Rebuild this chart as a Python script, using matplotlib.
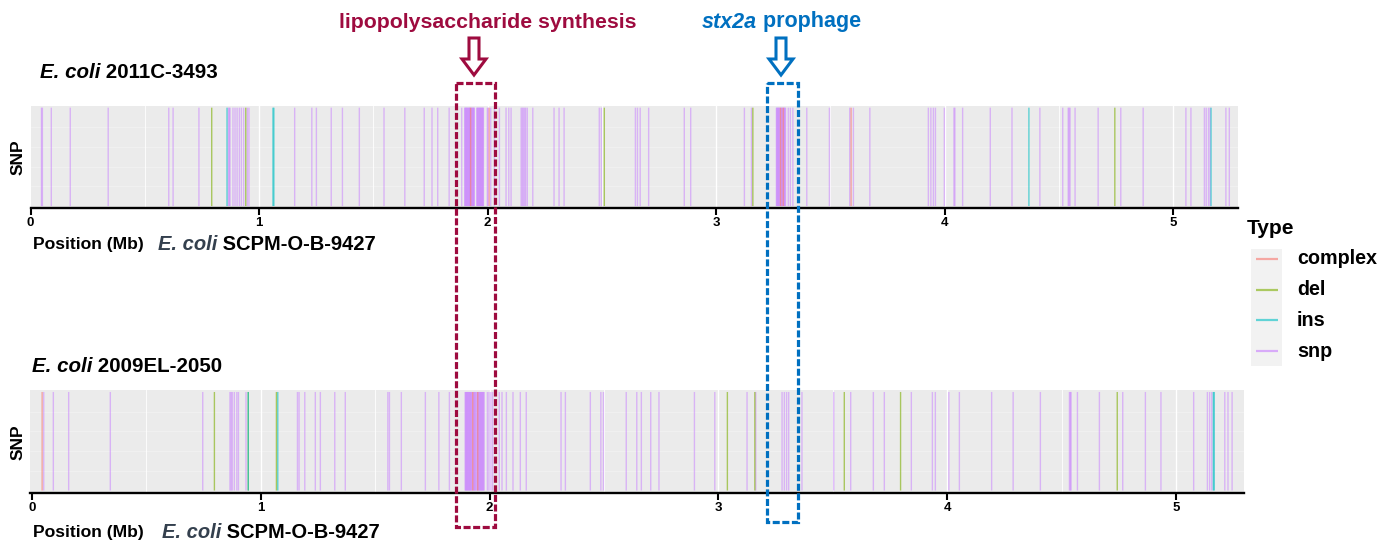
import matplotlib
matplotlib.use('Agg')
import matplotlib.pyplot as plt
from matplotlib.patches import Rectangle, Polygon

plt.rcParams['font.family'] = ['Liberation Sans', 'DejaVu Sans']

# ---------------- data (positions in Mb) ----------------
tick_values = [0, 1, 2, 3, 4, 5]
tick_labels = ['0', '1', '2', '3', '4', '5']
type_names = ['complex', 'del', 'ins', 'snp']

top_snp = [0.048, 0.052, 0.091, 0.174, 0.340, 0.605, 0.624, 0.737, 0.866, 0.870,
           0.873, 0.886, 0.895, 0.904, 0.914, 0.923, 0.933, 0.949, 0.956, 1.156,
           1.231, 1.251, 1.316, 1.365, 1.439, 1.547, 1.638, 1.723, 1.757, 1.782,
           1.832, 1.887,
           1.900, 1.902, 1.905, 1.907, 1.910, 1.912, 1.915, 1.917, 1.920, 1.922,
           1.924, 1.928, 1.930, 1.933, 1.935, 1.938, 1.940, 1.942,
           1.953, 1.955, 1.958, 1.960, 1.963, 1.965, 1.968, 1.970, 1.973, 1.975,
           1.978, 1.980, 1.982,
           1.999, 2.003, 2.014, 2.030, 2.052, 2.081, 2.093, 2.103, 2.147, 2.152,
           2.157, 2.162, 2.167, 2.174, 2.198, 2.291, 2.313, 2.335, 2.489, 2.498,
           2.647, 2.656, 2.668, 2.705, 2.861, 2.889, 3.124, 3.155,
           3.264, 3.266, 3.269, 3.271, 3.274, 3.276, 3.279, 3.284, 3.286, 3.289,
           3.291, 3.296, 3.299, 3.301, 3.304,
           3.316, 3.325, 3.336, 3.397, 3.496, 3.585, 3.601, 3.673,
           3.929, 3.940, 3.951, 3.960, 3.999, 4.041, 4.045, 4.079, 4.200, 4.295,
           4.417, 4.517, 4.541, 4.545, 4.549, 4.571, 4.672, 4.771, 4.869, 5.056,
           5.078, 5.137, 5.145, 5.155, 5.162, 5.231, 5.246]
top_del = [0.793, 0.942, 2.511, 3.161, 4.745]
top_ins = [0.860, 1.061, 1.065, 4.369, 5.166]
top_complex = [1.926, 2.007, 3.282, 3.294, 3.591]

bot_snp = [0.051, 0.093, 0.160, 0.342, 0.746, 0.865, 0.870, 0.875, 0.884, 0.895,
           0.902, 0.935, 1.160, 1.167, 1.192, 1.238, 1.260, 1.323, 1.369, 1.555,
           1.562, 1.614, 1.719, 1.778, 1.824,
           1.893, 1.895, 1.898, 1.900, 1.903, 1.905, 1.908, 1.910, 1.913, 1.915,
           1.918, 1.920, 1.923, 1.929, 1.931, 1.934, 1.936, 1.939,
           1.944, 1.946, 1.951, 1.953, 1.956, 1.958, 1.961, 1.963, 1.966, 1.968,
           1.971, 1.973, 1.976,
           1.990, 1.997, 2.005, 2.013, 2.042, 2.054, 2.073, 2.102, 2.134, 2.160,
           2.312, 2.331, 2.440, 2.486, 2.497, 2.597, 2.643, 2.663, 2.704, 2.740,
           2.895, 2.984, 3.125, 3.163, 3.278, 3.288, 3.298, 3.307, 3.365, 3.504,
           3.578, 3.677, 3.725, 3.843, 3.935, 3.948, 4.007, 4.053, 4.194, 4.288,
           4.407, 4.534, 4.538, 4.541, 4.569, 4.665, 4.767, 4.866, 4.934, 5.077,
           5.137, 5.147, 5.156, 5.213, 5.227, 5.245]
bot_del = [0.797, 0.945, 1.068, 3.039, 3.159, 3.550, 3.796, 4.743]
bot_ins = [0.945, 1.074, 5.163, 5.167]
bot_complex = [0.044, 1.926, 1.948]

top_title = ('E. coli', ' 2011C-3493')
bot_title = ('E. coli', ' 2009EL-2050')
ref_label = ('E. coli', ' SCPM-O-B-9427')

# ---------------- styling ----------------
W, H = 1390, 546
colors = {'complex': '#F8766D', 'del': '#7CAE00', 'ins': '#00BFC4', 'snp': '#C77CFF'}
red = '#9E0B3F'
blue = '#0070C0'

fig = plt.figure(figsize=(W / 100, H / 100), dpi=100)


def ax_px(left, top, right, bottom):
    return fig.add_axes([left / W, 1 - bottom / H, (right - left) / W, (bottom - top) / H])


def draw_panel(ax, snp, dele, ins, cpx, xlim):
    ax.set_facecolor('#EBEBEB')
    ax.set_xlim(*xlim)
    ax.set_ylim(-0.02, 1.02)
    for x in [0.5, 1.5, 2.5, 3.5, 4.5]:
        ax.axvline(x, color='white', lw=0.6, zorder=0)
    for x in tick_values[1:]:
        ax.axvline(x, color='white', lw=1.0, zorder=0)
    for y in [0.2, 0.4, 0.6, 0.8]:
        ax.axhline(y, color='white', lw=0.4, alpha=0.5, zorder=0)
    kw = dict(lw=1.0, snap=False)
    ax.vlines(snp, 0, 1, colors=colors['snp'], alpha=0.5, zorder=2, **kw)
    ax.vlines(dele, 0, 1, colors=colors['del'], alpha=0.6, zorder=2, **kw)
    ax.vlines(ins, 0, 1, colors=colors['ins'], alpha=0.6, zorder=2, **kw)
    ax.vlines(cpx, 0, 1, colors=colors['complex'], alpha=0.6, zorder=3, **kw)
    for s in ['top', 'right', 'left']:
        ax.spines[s].set_visible(False)
    ax.spines['bottom'].set_linewidth(1.7)
    ax.spines['bottom'].set_color('black')
    ax.set_yticks([])
    ax.set_xticks(tick_values)
    ax.set_xticklabels(tick_labels, fontweight='bold', fontsize=9.5)
    ax.tick_params(axis='x', length=5, width=1.5, pad=1.5, colors='black')


ax1 = ax_px(30.5, 105.7, 1238, 208)
draw_panel(ax1, top_snp, top_del, top_ins, top_complex, (0, 5.284))
ax2 = ax_px(30, 390, 1244, 492.5)
draw_panel(ax2, bot_snp, bot_del, bot_ins, bot_complex, (-0.009, 5.297))

# overlay in pixel coordinates
ov = fig.add_axes([0, 0, 1, 1], zorder=10)
ov.set_xlim(0, W)
ov.set_ylim(H, 0)
ov.axis('off')
ov.patch.set_alpha(0)


def mixed(x, y, parts, size, first_color='black', rest_color='black'):
    t1 = ov.text(x, y, parts[0], fontsize=size, fontweight='bold', style='italic',
                 color=first_color, va='center', ha='left')
    ov.annotate(parts[1], xy=(1, 0), xycoords=t1, fontsize=size, fontweight='bold',
                color=rest_color, va='bottom', ha='left')
    return t1


# SNP labels
for yc in [157, 442]:
    ov.text(18, yc, 'SNP', rotation=90, fontsize=12.5, fontweight='bold', va='center', ha='center')

# titles
mixed(40, 73, top_title, 14.8)
mixed(32, 367, bot_title, 14.8)

# position labels
for (xp, xr, yc) in [(33, 158, 245), (33, 162, 533)]:
    ov.text(xp, yc, 'Position (Mb)', fontsize=12.6, fontweight='bold', va='center', ha='left')
    mixed(xr, yc, ref_label, 14.5, first_color='#34404E')

# annotation boxes
ov.add_patch(Rectangle((456, 83), 39, 444, fill=False, edgecolor=red, lw=2.3,
                       linestyle=(0, (2.2, 0.8))))
ov.add_patch(Rectangle((767, 83), 31, 439, fill=False, edgecolor=blue, lw=2.3,
                       linestyle=(0, (2.2, 0.8))))


def arrow(cx, color):
    pts = [(cx - 5, 38), (cx + 5, 38), (cx + 5, 59), (cx + 12, 59), (cx, 75),
           (cx - 12, 59), (cx - 5, 59)]
    ov.add_patch(Polygon(pts, closed=True, facecolor='white', edgecolor=color, lw=2.2))


arrow(474, red)
arrow(781, blue)

ov.text(488, 22, 'lipopolysaccharide synthesis', fontsize=15.3, fontweight='bold',
        color=red, va='center', ha='center')
mixed(702, 22, ('stx2a', ' prophage'), 15.5, first_color=blue, rest_color=blue)

# legend
ov.text(1247, 229, 'Type', fontsize=15, fontweight='bold', va='center', ha='left')
ov.add_patch(Rectangle((1251, 249), 31, 117, facecolor='#F2F2F2', edgecolor='none'))
for i, name in enumerate(type_names):
    yy = 259 + i * 30.7
    ov.plot([1256, 1278], [yy, yy], color=colors[name], lw=1.6, alpha=0.6,
            solid_capstyle='butt')
    ov.text(1297, yy, name, fontsize=14.2, fontweight='bold', va='center', ha='left')

fig.savefig('out.png', dpi=100)
